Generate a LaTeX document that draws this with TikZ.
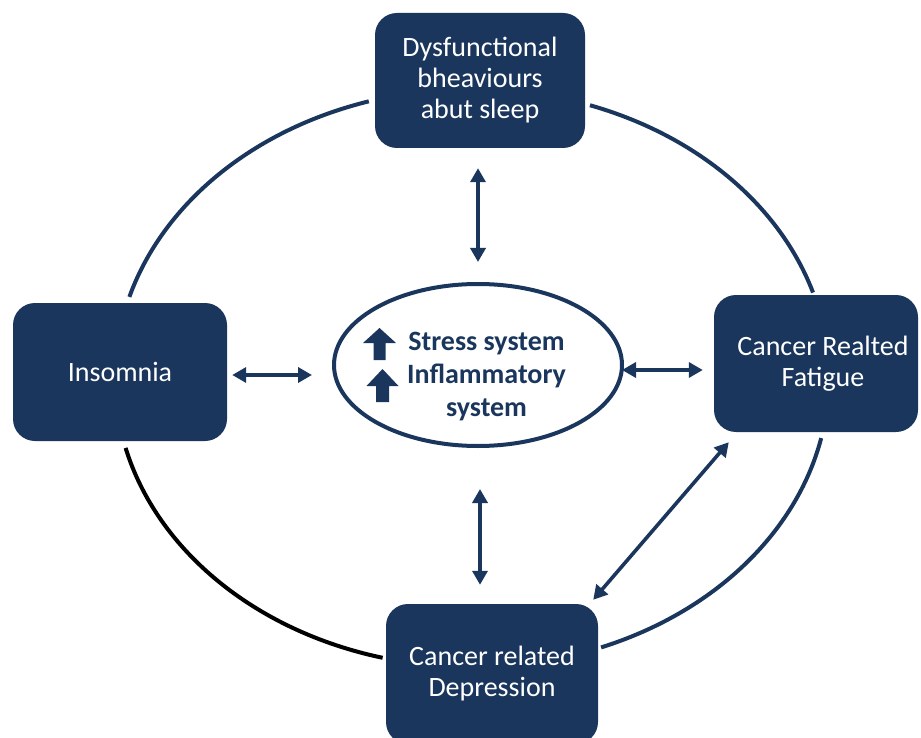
\documentclass[tikz,border=0pt]{standalone}
\usepackage{fontspec}
\setmainfont{Carlito}
\usetikzlibrary{arrows.meta,calc,shapes.geometric}
\definecolor{navy}{RGB}{26,54,93}
\begin{document}
\begin{tikzpicture}[x=1pt,y=-1pt,
  box/.style={fill=navy, rounded corners=22pt, text=white, align=center,
    font=\fontsize{28}{31}\selectfont, inner sep=0pt},
  boxtext/.style={text=white, align=center, font=\fontsize{28}{31}\selectfont, inner sep=0pt},
  link/.style={draw=navy, line width=4pt},
  dart/.style={draw=navy, line width=3.6pt,
    {Triangle[length=14pt,width=15pt]}-{Triangle[length=14pt,width=15pt]}},
  upblock/.style={fill=navy}
  ]
\useasboundingbox (0,0) rectangle (921,738);
% big ring
\coordinate (C) at (472,378);
\draw[link] ($(C)+(163.7:357pt and 289pt)$) arc[start angle=163.7, end angle=106.8, x radius=357pt, y radius=289pt];
\draw[link] ($(C)+(70.7:357pt and 289pt)$) arc[start angle=70.7, end angle=17.2, x radius=357pt, y radius=289pt];
\draw[link] ($(C)+(-12:357pt and 289pt)$) arc[start angle=-12, end angle=-68.8, x radius=357pt, y radius=289pt];
\draw[link, draw=black] ($(C)+(255.5:357pt and 289pt)$) arc[start angle=255.5, end angle=194, x radius=357pt, y radius=289pt];
% boxes
\node[box, minimum width=210pt, minimum height=135pt] (top) at (480,80.5) {Dysfunctional\\bheaviours\\abut sleep};
\node[box, minimum width=214pt, minimum height=138pt] (lbox) at (120,372) {Insomnia};
\node[box, minimum width=204pt, minimum height=137pt] (rbox) at (816,363.5) {};
\node[boxtext] (rtxt) at (823,363.5) {Cancer Realted\\Fatigue};
\node[box, minimum width=212pt, minimum height=140pt] (bbox) at (492,674) {Cancer related\\Depression};
% central ellipse
\node[ellipse, draw=navy, line width=4pt, fill=white, minimum width=288pt, minimum height=162pt, inner sep=0pt] (ell) at (478,365) {};
\node[align=center, font=\fontsize{28}{33}\selectfont\bfseries, text=navy, inner sep=0pt] (etxt) at (486.5,377) {Stress system\\Inflammatory\\system};
\fill[upblock] (379.5,328) -- (396,343) -- (385.5,343) -- (385.5,360) -- (373.5,360) -- (373.5,343) -- (363,343) -- cycle;
\fill[upblock] (382.5,369) -- (398.5,386) -- (389,386) -- (389,402) -- (376,402) -- (376,386) -- (366.5,386) -- cycle;
% arrows
\draw[dart] ([xshift=-2pt,yshift=-20pt]top.south) -- ([yshift=20pt]ell.north);
\draw[dart] ([xshift=5pt,yshift=-3pt]lbox.east) -- ([xshift=-20pt,yshift=-10pt]ell.west);
\draw[dart] ([xshift=-2pt,yshift=-5pt]ell.east) -- ([xshift=-11pt,yshift=-6.5pt]rbox.west);
\draw[dart] ([xshift=2pt,yshift=-41pt]ell.south) -- ([xshift=-12pt,yshift=19pt]bbox.north);
\draw[dart] ([xshift=15pt,yshift=-10pt]rbox.south west) -- ([xshift=-5pt,yshift=4pt]bbox.north east);
\end{tikzpicture}
\end{document}
